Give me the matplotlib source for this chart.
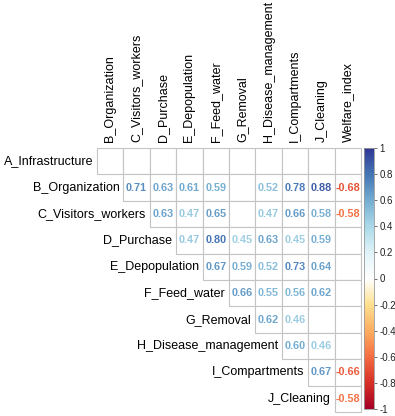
import numpy as np
import matplotlib.pyplot as plt
from matplotlib.colors import LinearSegmentedColormap, Normalize
from matplotlib.patches import Rectangle
from matplotlib.cm import ScalarMappable

plt.rcParams['font.family'] = ['Liberation Sans', 'DejaVu Sans']

# 行、列名称
row_names = ["A_Infrastructure", "B_Organization", "C_Visitors_workers", "D_Purchase",
             "E_Depopulation", "F_Feed_water", "G_Removal", "H_Disease_management",
             "I_Compartments", "J_Cleaning"]
col_names = ["B_Organization", "C_Visitors_workers", "D_Purchase", "E_Depopulation",
             "F_Feed_water", "G_Removal", "H_Disease_management", "I_Compartments",
             "J_Cleaning", "Welfare_index"]

# 上三角相关系数 (None = 不显著, 空白)
row_a = [None] * 10
row_b = [0.71, 0.63, 0.61, 0.59, None, 0.52, 0.78, 0.88, -0.68]
row_c = [0.63, 0.47, 0.65, None, 0.47, 0.66, 0.58, -0.58]
row_d = [0.47, 0.80, 0.45, 0.63, 0.45, 0.59, None]
row_e = [0.67, 0.59, 0.52, 0.73, 0.64, None]
row_f = [0.66, 0.55, 0.56, 0.62, None]
row_g = [0.62, 0.46, None, None]
row_h = [0.60, 0.46, None]
row_i = [0.67, -0.66]
row_j = [-0.58]
values = [row_a, row_b, row_c, row_d, row_e, row_f, row_g, row_h, row_i, row_j]

cbar_ticks = [1, 0.8, 0.6, 0.4, 0.2, 0, -0.2, -0.4, -0.6, -0.8, -1]

# corrplot COL2('RdYlBu')
cmap = LinearSegmentedColormap.from_list("rdylbu2", [
    "#A50026", "#D73027", "#F46D43", "#FDAE61", "#FEE090", "#FFFFFF",
    "#E0F3F8", "#ABD9E9", "#74ADD1", "#4575B4", "#313695"])
norm = Normalize(-1, 1)

W, H = 395, 416
fig = plt.figure(figsize=(W / 100, H / 100), dpi=100)

gx0, gx1, gy0, gy1 = 97, 361, 148, 412
ax = fig.add_axes([gx0 / W, 1 - gy1 / H, (gx1 - gx0) / W, (gy1 - gy0) / H])
ax.set_xlim(0, 10)
ax.set_ylim(10, 0)
ax.axis('off')

for i, row in enumerate(values):
    for k, v in enumerate(row):
        j = i + k
        ax.add_patch(Rectangle((j, i), 1, 1, facecolor='white', edgecolor='#c4c4c4',
                               lw=0.8, clip_on=False))
        if v is not None:
            ax.text(j + 0.5, i + 0.5, f"{v:.2f}", ha='center', va='center',
                    fontsize=7.8, fontweight='bold', color=cmap(norm(v)))
    # 行标签
    ax.text(i - 0.15, i + 0.5, row_names[i], ha='right', va='center',
            fontsize=9.0, color='black', clip_on=False)

# 列标签
for j, name in enumerate(col_names):
    ax.text(j + 0.5, -0.23, name, ha='center', va='bottom', rotation=90,
            fontsize=9.0, color='black', clip_on=False)

# 色条
cax = fig.add_axes([364 / W, 1 - 409 / H, 10 / W, (409 - 148) / H])
cb = fig.colorbar(ScalarMappable(norm=norm, cmap=cmap), cax=cax, ticks=cbar_ticks)
cb.ax.set_yticklabels([f"{t:g}" for t in cbar_ticks])
cb.ax.tick_params(labelsize=7, length=2.5, width=0.6, color='#555555', labelcolor='#222222', pad=1.5)
cb.outline.set_edgecolor('#999999')
cb.outline.set_linewidth(0.6)

fig.savefig("out.png", dpi=100)
